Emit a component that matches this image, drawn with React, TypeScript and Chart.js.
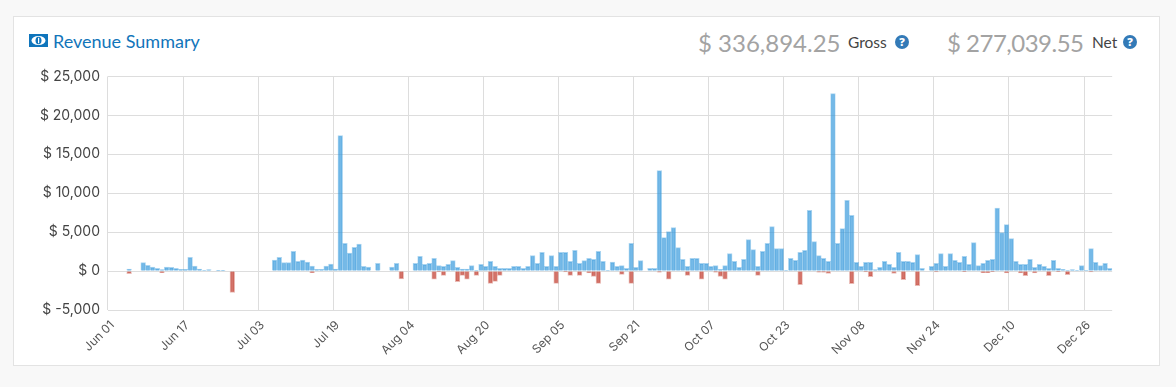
import React, { useEffect, useRef } from "react";
import { Chart, registerables } from "chart.js";

Chart.register(...registerables);

const monthNames = ["Jun", "Jul", "Aug", "Sep", "Oct", "Nov", "Dec"];
const monthDays = [30, 31, 31, 30, 31, 30, 31];
const categories: string[] = monthNames.flatMap((m, k) =>
  Array.from({ length: monthDays[k] }, (_, d) => `${m} ${String(d + 1).padStart(2, "0")}`)
);
const tickLabels = ["Jun 01", "Jun 17", "Jul 03", "Jul 19", "Aug 04", "Aug 20", "Sep 05", "Sep 21", "Oct 07", "Oct 23", "Nov 08", "Nov 24", "Dec 10", "Dec 26"];

const gross = [
  0, 0, 0, 0, 250, 0, 0, 1100, 750, 500,
  350, 200, 500, 480, 350, 220, 220, 1780, 650, 250,
  80, 200, 0, 100, 100, 0, 0, 0, 0, 0,
  0, 0, 0, 0, 0, 1400, 1750, 1100, 1100, 2550,
  1250, 1400, 1150, 650, 220, 220, 650, 900, 250, 17400,
  3550, 2300, 3050, 3450, 620, 500, 0, 1000, 0, 0,
  500, 1000, 0, 0, 0, 980, 1880, 850, 980, 1620,
  720, 600, 850, 1360, 470, 250, 250, 720, 80, 850,
  600, 1240, 600, 340, 340, 340, 600, 600, 340, 600,
  2000, 980, 2400, 600, 2000, 600, 2400, 2400, 1240, 2650,
  980, 1360, 1620, 1500, 2520, 1240, 60, 1150, 600, 720,
  340, 3550, 470, 1360, 0, 340, 340, 12900, 4300, 5080,
  5600, 3030, 1500, 600, 1620, 1620, 980, 980, 600, 720,
  220, 720, 2260, 1240, 470, 1500, 4050, 2770, 600, 2520,
  3550, 5720, 2900, 2900, 50, 1620, 1370, 2400, 2650, 7800,
  3800, 2000, 1620, 1240, 22800, 3550, 5460, 9100, 7150, 1110,
  600, 1110, 1110, 200, 470, 1240, 850, 470, 2400, 1240,
  1240, 1110, 2130, 340, 0, 600, 980, 2260, 600, 2260,
  1370, 1110, 1880, 850, 3670, 720, 980, 1370, 1500, 8100,
  4950, 5970, 4180, 1240, 850, 850, 1500, 470, 850, 600,
  340, 1370, 340, 220, 60, 200, 60, 720, 60, 2900,
  1110, 720, 980, 340,
];

const refunds = [
  0, 0, 0, 0, -340, 0, 0, 0, 0, 0,
  0, -200, 0, 0, 0, 0, 0, 0, 0, 0,
  0, 0, 0, 0, 0, 0, -2750, 0, 0, 0,
  0, 0, 0, 0, 0, 0, 0, 0, 0, 0,
  0, 0, 0, -200, 0, 0, 0, 0, 0, 0,
  0, 0, 0, 0, 0, 0, 0, 0, 0, 0,
  0, 0, -1000, 0, 0, 0, 0, 0, 0, -1050,
  -100, -550, 0, 0, -1350, -550, -1050, 0, -550, 0,
  0, -1580, -1320, -550, 0, 0, 0, 0, 0, 0,
  0, 0, 0, 0, 0, -1580, 0, -100, -550, 0,
  -550, 0, -250, -700, -1580, 0, 0, 0, 0, -420,
  0, -1580, 0, 0, 0, 0, 0, -150, 0, -1050,
  0, 0, 0, -550, 0, 0, -1050, 0, 0, -150,
  -700, -1050, 0, 0, 0, 0, 0, 0, -550, 0,
  0, 0, 0, 0, 0, 0, 0, -1750, 0, 0,
  0, -150, -150, -300, 0, 0, 0, 0, -1620, 0,
  0, -100, -720, 0, 0, 0, 0, -300, 0, -1100,
  0, 0, -1880, 0, 0, 0, -100, 0, 0, 0,
  0, 0, -80, 0, 0, 0, -200, -200, -80, 0,
  0, -250, 0, 0, -250, -600, 0, -250, 0, 0,
  -600, 0, -80, 0, -470, 0, 0, 0, 0, -100,
  0, 0, 0, 0,
];

const UI = "Lato, 'Open Sans', sans-serif";
const AXIS = "Inter, 'Open Sans', sans-serif";
const GRID = "#dddddd";

const abs = (left: number, top: number): React.CSSProperties => ({
  position: "absolute", left, top, whiteSpace: "nowrap", lineHeight: 1,
});

function Help({ left, top }: { left: number; top: number }) {
  return (
    <svg style={{ position: "absolute", left, top }} width={14} height={14} viewBox="0 0 14 14">
      <circle cx={7} cy={7} r={7} fill="#337ab7" />
      <text x={7} y={11} textAnchor="middle" fontFamily="'Open Sans', sans-serif" fontWeight={800} fontSize={11} fill="#fff">?</text>
    </svg>
  );
}

export default function App() {
  const ref = useRef<HTMLCanvasElement>(null);
  useEffect(() => {
    document.body.style.margin = "0";
    document.body.style.background = "#f8f8f8";
    const chart = new Chart(ref.current!, {
      type: "bar",
      data: {
        labels: categories,
        datasets: [
          { label: "Gross", data: gross.map((v) => v || null), backgroundColor: "rgba(52,152,219,0.68)", borderColor: "rgba(52,152,219,0.42)", borderWidth: 1, barPercentage: 1, categoryPercentage: 1 },
          { label: "Refunds", data: refunds.map((v) => v || null), backgroundColor: "rgba(192,57,43,0.7)", borderColor: "rgba(192,57,43,0.35)", borderWidth: 1, barPercentage: 1, categoryPercentage: 1 },
        ],
      },
      options: {
        animation: false,
        responsive: false,
        layout: { padding: { top: 4, right: 2, left: 0, bottom: 0 } },
        plugins: { legend: { display: false }, tooltip: { enabled: false } },
        scales: {
          x: {
            stacked: true,
            afterFit: (a: any) => { a.height = 51; },
            grid: {
              offset: true,
              drawTicks: false,
              color: (c: any) => (c.index !== undefined && c.index < 214 && c.index % 16 === 0 ? GRID : "rgba(0,0,0,0)"),
            },
            border: { display: false },
            ticks: {
              autoSkip: false,
              maxRotation: 45,
              minRotation: 45,
              padding: 8,
              labelOffset: 2,
              color: "#555",
              font: { family: AXIS, size: 12 },
              callback: (_v: any, i: number) => (i % 16 === 0 ? tickLabels[i / 16] : ""),
            },
          },
          y: {
            stacked: true,
            min: -5000,
            max: 25000,
            afterFit: (a: any) => { a.width = 88; },
            grid: { color: GRID, drawTicks: false },
            border: { display: false },
            ticks: {
              stepSize: 5000,
              padding: 8,
              color: "#444",
              font: { family: AXIS, size: 14 },
              callback: (v: any) => `$ ${Number(v).toLocaleString("en-US")}`,
            },
          },
        },
      },
    } as any);
    return () => chart.destroy();
  }, []);

  return (
    <div style={{ position: "relative", width: 1176, height: 387, overflow: "hidden", background: "#f8f8f8" }}>
      <div style={{ position: "absolute", left: 13, top: 16, width: 1145, height: 348, background: "#fff", border: "1px solid #e3e3e3" }} />
      <svg style={{ position: "absolute", left: 29, top: 34 }} width={19} height={13} viewBox="0 0 19 13">
        <rect width={19} height={13} fill="#0f75bc" />
        <ellipse cx={9.5} cy={6.5} rx={7} ry={4.5} fill="#fff" />
        <ellipse cx={9.5} cy={6.5} rx={3} ry={3.8} fill="#0f75bc" />
        <rect x={9} y={3.8} width={1.2} height={5.4} fill="#fff" />
      </svg>
      <span style={{ ...abs(53, 30), font: `18px ${UI}`, lineHeight: "18px", color: "#1275ba" }}>Revenue Summary</span>
      <span style={{ ...abs(698, 28), font: `24px ${UI}`, lineHeight: "24px", color: "#a3a3a3" }}>$ 336,894.25</span>
      <span style={{ ...abs(848, 33), font: `15.5px ${UI}`, lineHeight: "15px", color: "#444" }}>Gross</span>
      <Help left={895} top={35} />
      <span style={{ ...abs(947, 28), font: `24px ${UI}`, lineHeight: "24px", color: "#a3a3a3", letterSpacing: "-0.5px" }}>$ 277,039.55</span>
      <span style={{ ...abs(1092, 33), font: `15.5px ${UI}`, lineHeight: "15px", color: "#444" }}>Net</span>
      <Help left={1123} top={35} />
      <canvas ref={ref} width={1108} height={301} style={{ position: "absolute", left: 20, top: 60, width: 1108, height: 301 }} />
    </div>
  );
}
